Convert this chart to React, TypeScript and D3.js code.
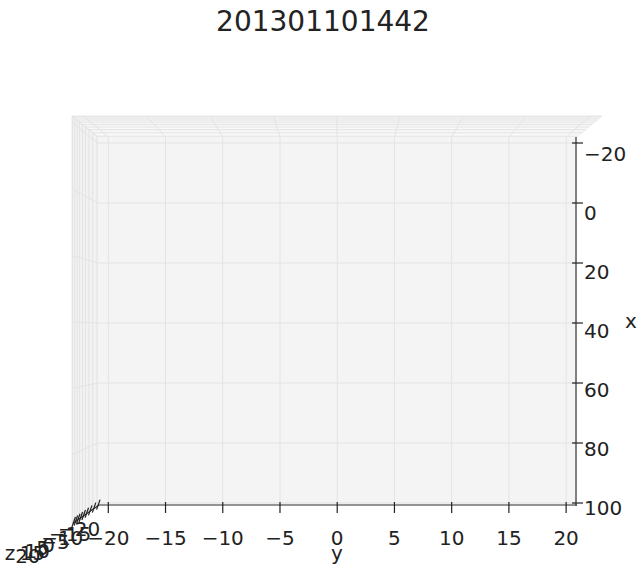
import React from 'react';
import { scaleLinear } from 'd3';

const title = '201301101442';
const xTicks = [-20, 0, 20, 40, 60, 80, 100];
const yTicks = [-20, -15, -10, -5, 0, 5, 10, 15, 20];
const zTicks = [-20, -15, -10, -5, 0, 5, 10, 15, 20];
const xDomain = [-22, 101];
const yDomain = [-20.9, 20.95];
const zDomain = [-21, 21];

const W = 644;
const H = 572;

// inner (bottom) pane and the point the side walls grow from
const pane = { left: 98, top: 137, right: 577, bottom: 506 };
const vx = 342;
const vy = 334;
const wallScale = 1.1065;

const fmt = (v: number) => (v < 0 ? '\u2212' + Math.abs(v) : String(v));

const App = () => {
  const yScale = scaleLinear().domain(yDomain).range([pane.left, pane.right]);
  const xScale = scaleLinear().domain(xDomain).range([pane.top, pane.bottom]);
  const zScale = scaleLinear().domain(zDomain).range([0, 1]);

  // perspective-ish spread along the walls
  const k = 0.5;
  const wallT = (z: number) => {
    const t = zScale(z);
    return ((1 + k) * t) / (1 + k * t);
  };
  const grow = (t: number) => 1 + (wallScale - 1) * t;
  const px = (x: number, t: number) => vx + grow(t) * (x - vx);
  const py = (y: number, t: number) => vy + grow(t) * (y - vy);

  const outer = {
    left: px(pane.left, 1),
    right: px(pane.right, 1),
    top: py(pane.top, 1),
    bottom: py(pane.bottom, 1),
  };

  const gridColor = '#e3e3e3';
  const textColor = '#222';

  return (
    <svg width={W} height={H} style={{ position: 'absolute', left: 0, top: 0, background: '#fff' }}
      fontFamily="DejaVu Sans, sans-serif">
      <text x={323} y={31} textAnchor="middle" fontSize={28} fill={textColor}>{title}</text>

      {/* top wall */}
      <polygon
        points={`${outer.left},${outer.top} ${outer.right},${outer.top} ${pane.right},${pane.top} ${pane.left},${pane.top}`}
        fill="#f8f8f8" stroke="#f0f0f0" strokeWidth={1} />
      {/* left wall */}
      <polygon
        points={`${outer.left},${outer.top} ${pane.left},${pane.top} ${pane.left},${pane.bottom} ${outer.left},${outer.bottom}`}
        fill="#f2f2f2" stroke="#ececec" strokeWidth={1} />
      {/* bottom pane */}
      <rect x={pane.left} y={pane.top} width={pane.right - pane.left} height={pane.bottom - pane.top}
        fill="#f4f4f4" />

      {/* z grid on the walls */}
      {zTicks.map(z => {
        const t = wallT(z);
        const l = px(pane.left, t);
        const r = px(pane.right, t);
        const tp = py(pane.top, t);
        const b = py(pane.bottom, t);
        return (
          <polyline key={'zg' + z} points={`${l},${b} ${l},${tp} ${r},${tp}`}
            fill="none" stroke={gridColor} strokeWidth={1} />
        );
      })}

      {/* y grid: pane + top wall */}
      {yTicks.map(y => {
        const x0 = yScale(y);
        return (
          <polyline key={'yg' + y}
            points={`${x0},${pane.bottom} ${x0},${pane.top} ${px(x0, 1)},${outer.top}`}
            fill="none" stroke={gridColor} strokeWidth={1} />
        );
      })}

      {/* x grid: pane + left wall */}
      {xTicks.map(x => {
        const y0 = xScale(x);
        return (
          <polyline key={'xg' + x}
            points={`${pane.right},${y0} ${pane.left},${y0} ${outer.left},${py(y0, 1)}`}
            fill="none" stroke={gridColor} strokeWidth={1} />
        );
      })}

      {/* wall corner edge */}
      <line x1={outer.left} y1={outer.top} x2={pane.left} y2={pane.top} stroke={gridColor} />

      {/* y axis */}
      <line x1={pane.left} y1={pane.bottom - 1} x2={pane.right} y2={pane.bottom - 1} stroke="#333" strokeWidth={1.2} />
      {yTicks.map(y => (
        <g key={'yt' + y}>
          <line x1={yScale(y)} y1={pane.bottom - 4} x2={yScale(y)} y2={pane.bottom + 7} stroke="#222" strokeWidth={1.2} />
          <text x={yScale(y)} y={545} textAnchor="middle" fontSize={20} fill={textColor}>{fmt(y)}</text>
        </g>
      ))}
      <text x={337} y={560} textAnchor="middle" fontSize={20} fill={textColor}>y</text>

      {/* x axis */}
      <line x1={pane.right - 1} y1={pane.top} x2={pane.right - 1} y2={pane.bottom} stroke="#333" strokeWidth={1.2} />
      {xTicks.map((x, i) => {
        const off = 11 - (6 * i) / (xTicks.length - 1);
        return (
          <g key={'xt' + x}>
            <line x1={pane.right - 5} y1={xScale(x)} x2={pane.right + 6} y2={xScale(x)} stroke="#222" strokeWidth={1.2} />
            <text x={584} y={xScale(x) + off + 7} fontSize={20} fill={textColor}>{fmt(x)}</text>
          </g>
        );
      })}
      <text x={631} y={328} textAnchor="middle" fontSize={20} fill={textColor}>x</text>

      {/* z axis along the lower-left wall edge */}
      <line x1={pane.left + 1} y1={pane.bottom - 1} x2={outer.left + 1} y2={outer.bottom - 1} stroke="#333" strokeWidth={1.2} />
      {zTicks.map(z => {
        const t = wallT(z);
        const tx = px(pane.left, t) + 1;
        const ty = py(pane.bottom, t) - 1;
        return (
          <g key={'zt' + z}>
            <line x1={tx - 1.5} y1={ty + 4} x2={tx + 2} y2={ty - 6} stroke="#222" strokeWidth={1.2} />
            <text x={tx - 18 - 28 * t} y={ty + 30 + 10 * t} textAnchor="middle" fontSize={20} fill={textColor}>{fmt(z)}</text>
          </g>
        );
      })}
      <text x={10} y={560} textAnchor="middle" fontSize={20} fill={textColor}>z</text>
    </svg>
  );
};

export default App;
